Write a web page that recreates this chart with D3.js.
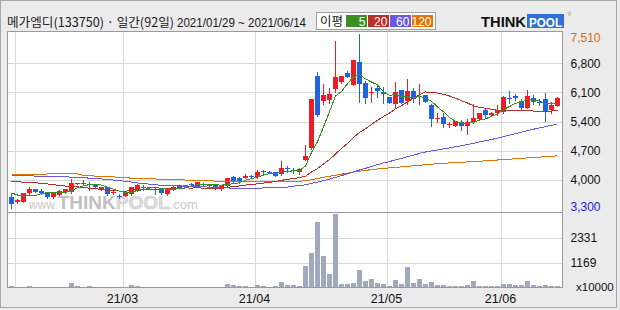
<!DOCTYPE html>
<html>
<head>
<meta charset="utf-8">
<script src="https://d3js.org/d3.v7.min.js"></script>
<style>
  body { margin: 0; background: #fff; }
  svg text { font-family: "Liberation Sans", Arial, sans-serif; }
  .kr { font-family: "Noto Sans CJK KR", "Noto Sans", sans-serif; }
</style>
</head>
<body>
<div id="chart"></div>
<script>
// trading days 2021/01/29 ~ 2021/06/14 (92)
const dates = [
  "01/29",
  "02/01","02/02","02/03","02/04","02/05","02/08","02/09","02/10","02/15","02/16",
  "02/17","02/18","02/19","02/22","02/23","02/24","02/25","02/26",
  "03/02","03/03","03/04","03/05","03/08","03/09","03/10","03/11","03/12","03/15",
  "03/16","03/17","03/18","03/19","03/22","03/23","03/24","03/25","03/26","03/29",
  "03/30","03/31",
  "04/01","04/02","04/05","04/06","04/07","04/08","04/09","04/12","04/13","04/14",
  "04/15","04/16","04/19","04/20","04/21","04/22","04/23","04/26","04/27","04/28",
  "04/29","04/30",
  "05/03","05/04","05/06","05/07","05/10","05/11","05/12","05/13","05/14","05/17",
  "05/18","05/20","05/21","05/24","05/25","05/26","05/27","05/28","05/31",
  "06/01","06/02","06/03","06/04","06/07","06/08","06/09","06/10","06/11","06/14"
];

const openP = [
  3600,3465,3480,3680,3785,3745,3705,3585,3650,3705,
  3720,3915,3915,3905,3905,3775,3825,3680,3620,3615,
  3670,3740,3830,3825,3780,3775,3655,3760,3815,3840,
  3905,3860,3905,3905,3880,3775,3860,4065,4040,4055,
  4100,4065,4205,4190,4185,4135,4290,4245,4185,4480,
  4770,6490,5895,5920,6175,6360,6575,6280,6830,6320,
  6110,6215,6120,5985,5825,6160,5895,6135,6000,6040,
  5810,5470,5500,5330,5290,5390,5305,5385,5465,5680,
  5560,5600,5625,5965,6025,5905,5735,5975,5880,5945,
  5680,5785
];
const highP = [
  3700,3535,3690,3840,3790,3775,3710,3700,3750,3780,
  4015,3940,4000,3960,3915,3830,3830,3730,3665,3700,
  3840,3900,3880,3840,3825,3780,3790,3850,3885,3890,
  3935,3950,3925,3910,3885,3885,4050,4090,4065,4145,
  4120,4240,4240,4215,4195,4450,4335,4280,4295,4840,
  5950,6600,6300,6200,7335,6505,6625,6890,7510,6375,
  6240,6305,6240,6000,6345,6170,6425,6210,6300,6050,
  5815,5600,5600,5400,5410,5440,5455,5815,5610,5730,
  5640,5800,6010,6135,6065,5945,6160,6040,5945,6080,
  5865,5990
];
const lowP = [
  3320,3440,3470,3640,3715,3665,3580,3580,3645,3700,
  3695,3900,3880,3760,3820,3770,3650,3670,3560,3610,
  3650,3735,3770,3800,3665,3675,3650,3755,3810,3835,
  3860,3855,3880,3850,3780,3770,3855,3955,3935,4040,
  4070,4040,4145,4160,4090,4120,4200,4175,4145,4470,
  4750,5540,5825,5850,6120,6335,6480,6270,5860,5855,
  5880,6000,5855,5840,5760,5840,5825,5880,5815,5870,
  5305,5390,5280,5280,5285,5200,5105,5360,5455,5510,
  5545,5560,5615,5840,5920,5680,5730,5825,5800,5415,
  5600,5775
];
const closeP = [
  3420,3520,3680,3785,3720,3695,3585,3695,3745,3775,
  3920,3925,3925,3895,3825,3825,3655,3720,3615,3695,
  3830,3875,3825,3815,3775,3680,3785,3840,3880,3880,
  3900,3945,3900,3855,3815,3880,4040,3960,3985,4105,
  4095,4200,4195,4185,4095,4295,4280,4240,4265,4580,
  5950,5560,6040,6065,6465,6495,6480,6880,6305,5970,
  6120,6135,6065,5850,6105,5850,6135,5935,6015,5880,
  5465,5480,5340,5340,5405,5300,5390,5480,5600,5560,
  5615,5680,6000,5960,5960,5735,6015,5880,5875,5655,
  5800,5975
];
// volume, x10000 shares
const volume = [
  60,55,55,60,50,45,50,45,50,55,
  200,60,55,60,45,40,55,40,45,50,
  110,100,50,45,50,45,50,50,45,55,
  50,55,45,40,45,55,150,105,60,100,
  55,140,60,55,60,250,130,110,65,1000,
  1620,3050,1460,620,3420,155,155,200,810,300,
  390,200,155,100,340,155,950,220,390,155,
  265,110,110,100,70,70,110,310,70,65,
  70,90,155,155,110,110,310,110,100,110,
  70,100
];

const ma5 = [
  3690,3640,3615,3620,3625,3680,3693,3696,3688,3699,
  3744,3812,3858,3888,3898,3879,3825,3784,3728,3702,
  3703,3747,3768,3808,3824,3794,3776,3779,3792,3813,
  3857,3889,3901,3896,3883,3879,3898,3910,3936,3994,
  4037,4069,4116,4156,4154,4194,4210,4219,4235,4332,
  4663,4919,5279,5639,6016,6125,6309,6477,6525,6426,
  6351,6282,6119,6028,6055,6001,6001,5975,6008,5963,
  5886,5755,5636,5501,5406,5373,5355,5383,5435,5466,
  5529,5587,5691,5763,5843,5867,5934,5910,5893,5832,
  5845,5837
];
const ma20 = [
  3965,3955,3950,3945,3935,3920,3905,3890,3870,3855,
  3845,3835,3820,3805,3790,3775,3760,3745,3735,3731,
  3752,3769,3777,3778,3781,3780,3790,3797,3804,3809,
  3808,3809,3808,3806,3806,3808,3828,3840,3858,3879,
  3892,3908,3927,3945,3961,3992,4017,4037,4056,4091,
  4193,4274,4381,4492,4624,4755,4877,5023,5139,5232,
  5333,5430,5524,5607,5707,5785,5878,5963,6050,6115,
  6091,6087,6052,6016,5963,5903,5848,5778,5743,5723,
  5697,5675,5671,5677,5670,5664,5658,5655,5648,5637,
  5654,5678
];
const ma60 = [
  4105,4105,4100,4100,4095,4095,4090,4085,4080,4075,
  4070,4065,4055,4045,4035,4025,4015,4000,3985,3970,
  3950,3930,3915,3900,3885,3875,3865,3860,3855,3850,
  3845,3840,3835,3830,3820,3815,3810,3805,3800,3800,
  3800,3805,3810,3815,3820,3825,3830,3850,3870,3885,
  3920,3950,3985,4020,4065,4105,4150,4195,4240,4281,
  4326,4369,4409,4443,4483,4519,4561,4599,4637,4672,
  4697,4723,4747,4771,4797,4822,4851,4880,4913,4944,
  4974,5004,5040,5076,5113,5147,5184,5218,5251,5281,
  5313,5346
];
const ma120 = [
  4125,4125,4125,4125,4130,4140,4145,4150,4150,4150,
  4150,4145,4110,4100,4095,4090,4085,4075,4065,4055,
  4045,4040,4035,4030,4025,4020,4015,4010,4005,4000,
  3995,3990,3985,3980,3975,3975,3970,3970,3965,3965,
  3960,3960,3960,3960,3960,3960,3960,3965,3970,3985,
  4005,4035,4065,4090,4115,4140,4165,4190,4210,4230,
  4250,4265,4280,4290,4305,4315,4330,4340,4355,4365,
  4380,4390,4400,4410,4415,4425,4435,4440,4450,4460,
  4470,4480,4490,4500,4510,4520,4530,4540,4550,4560,
  4570,4580
];

const maNames = ["5", "20", "60", "120"];
const maColors = ["#3b8e23", "#b9302a", "#6a5ae0", "#e07400"];
const priceTicks = [6800, 6100, 5400, 4700, 4000];
const priceMin = 3300;
const volTicks = [2331, 1169];
const volMax = 3500;
const monthLabels = ["21/03", "21/04", "21/05", "21/06"];

const W = 620, H = 310;
const panel = { left: 7.5, right: 562.5, top: 31.5, mid: 212.5, bottom: 287.5 };

const svg = d3.select("#chart").append("svg")
  .attr("width", W)
  .attr("height", H);

// background + frame
svg.append("rect").attr("width", W).attr("height", H).attr("fill", "#ebebeb");
svg.append("rect")
  .attr("x", 0.5).attr("y", 0.5).attr("width", 616).attr("height", 307)
  .attr("fill", "none").attr("stroke", "#a8a8a8");

// scales
const idx = d3.range(dates.length);
const x = d3.scaleBand().domain(idx).range([8.5, 560.5]);
const cx = (i) => x(i) + x.bandwidth() / 2;
const y = d3.scaleLinear().domain([priceMin, d3.max(highP)]).range([209.2, 33.7]);
const yv = d3.scaleLinear().domain([0, volMax]).range([287.7, 212.5]);

// panels
svg.append("rect")
  .attr("x", panel.left).attr("y", panel.top)
  .attr("width", panel.right - panel.left).attr("height", panel.bottom - panel.top)
  .attr("fill", "#fff");

const grid = svg.append("g").attr("stroke", "#d9d9d9").attr("shape-rendering", "crispEdges");

// month start gridlines
const monthStarts = idx.filter((i) => i > 0 && dates[i].slice(0, 2) !== dates[i - 1].slice(0, 2));
grid.selectAll(".vgrid")
  .data(monthStarts)
  .join("line")
  .attr("x1", (i) => Math.round(x(i)) + 0.5)
  .attr("x2", (i) => Math.round(x(i)) + 0.5)
  .attr("y1", panel.top)
  .attr("y2", panel.bottom);

grid.selectAll(".pgrid")
  .data(priceTicks)
  .join("line")
  .attr("x1", panel.left).attr("x2", panel.right)
  .attr("y1", (d) => Math.round(y(d)) + 0.5)
  .attr("y2", (d) => Math.round(y(d)) + 0.5);

grid.selectAll(".vgrid2")
  .data(volTicks)
  .join("line")
  .attr("x1", panel.left).attr("x2", panel.right)
  .attr("y1", (d) => Math.round(yv(d)) + 0.5)
  .attr("y2", (d) => Math.round(yv(d)) + 0.5);

// watermark
const wm = svg.append("text").attr("x", 29).attr("y", 209).attr("fill", "#c9c9c9");
wm.append("tspan").attr("font-size", 12).text("www.");
wm.append("tspan").attr("font-size", 19).attr("font-weight", "bold").attr("fill", "#c0c0c0").text("THINK");
wm.append("tspan").attr("font-size", 19).attr("font-weight", "bold").attr("fill", "#dedede")
  .attr("stroke", "#cacaca").attr("stroke-width", 0.6).text("POOL");
wm.append("tspan").attr("font-size", 13).text(".com");

// volume bars
svg.append("g")
  .attr("shape-rendering", "crispEdges")
  .selectAll("rect")
  .data(idx)
  .join("rect")
  .attr("x", (i) => cx(i) - 2.5)
  .attr("width", 5)
  .attr("y", (i) => Math.round(yv(volume[i])))
  .attr("height", (i) => Math.max(1, 288 - Math.round(yv(volume[i]))))
  .attr("fill", "#a1a9c1");

// candles
const up = "#ee1c24", down = "#2062e0";
const candles = svg.append("g").attr("shape-rendering", "crispEdges")
  .selectAll("g")
  .data(idx)
  .join("g")
  .attr("fill", (i) => (closeP[i] >= openP[i] ? up : down));

candles.append("rect")
  .attr("x", (i) => cx(i) - 0.5)
  .attr("width", 1)
  .attr("y", (i) => Math.round(y(highP[i])))
  .attr("height", (i) => Math.max(1, Math.round(y(lowP[i])) - Math.round(y(highP[i])) + 1));

candles.append("rect")
  .attr("x", (i) => cx(i) - 2.5)
  .attr("width", 5)
  .attr("y", (i) => Math.round(y(Math.max(openP[i], closeP[i]))))
  .attr("height", (i) =>
    Math.max(1, Math.round(y(Math.min(openP[i], closeP[i]))) - Math.round(y(Math.max(openP[i], closeP[i])))));

// moving averages
const maSeries = [ma5, ma20, ma60, ma120];
const line = d3.line().x((d, i) => cx(i)).y((d) => y(d));
svg.append("g")
  .selectAll("path")
  .data(maSeries.slice().reverse())
  .join("path")
  .attr("d", line)
  .attr("fill", "none")
  .attr("stroke", (d, k) => maColors[3 - k])
  .attr("stroke-width", 1)
  .attr("shape-rendering", "crispEdges");

// panel borders
svg.append("g")
  .attr("fill", "none").attr("stroke", "#9a9a9a").attr("shape-rendering", "crispEdges")
  .call((g) => {
    g.append("rect").attr("x", panel.left).attr("y", panel.top)
      .attr("width", panel.right - panel.left).attr("height", panel.mid - panel.top);
    g.append("rect").attr("x", panel.left).attr("y", panel.mid)
      .attr("width", panel.right - panel.left).attr("height", panel.bottom - panel.mid);
  });

// right price axis
const priceLabels = [d3.max(highP), ...priceTicks, priceMin];
const fmt = d3.format(",");
const pAxis = svg.append("g")
  .attr("transform", `translate(${panel.right + 4},0)`)
  .call(d3.axisRight(y).tickValues(priceLabels).tickSize(0).tickPadding(4).tickFormat(fmt));
pAxis.select(".domain").remove();
pAxis.selectAll("text")
  .attr("font-size", 12)
  .attr("font-family", "Liberation Sans, Arial, sans-serif")
  .attr("fill", (d) => (d === d3.max(highP) ? "#d46a0c" : d === priceMin ? "#1b1bd0" : "#111"))
  .attr("y", (d) => (d === d3.max(highP) ? 3.5 : d === priceMin ? -2.5 : 0));

const vAxis = svg.append("g")
  .attr("transform", `translate(${panel.right + 4},0)`)
  .call(d3.axisRight(yv).tickValues(volTicks).tickSize(0).tickPadding(4).tickFormat(d3.format("d")));
vAxis.select(".domain").remove();
vAxis.selectAll("text").attr("font-size", 12).attr("font-family", "Liberation Sans, Arial, sans-serif").attr("fill", "#111");

svg.append("text")
  .attr("x", 576).attr("y", 291)
  .attr("font-size", 11.5).attr("fill", "#111")
  .text("x10000");

// bottom date axis
const labelled = monthStarts.slice(-monthLabels.length);
const xAxis = svg.append("g")
  .attr("transform", `translate(${-x.bandwidth() / 2},${panel.bottom})`)
  .call(d3.axisBottom(x).tickValues(labelled).tickSize(0).tickPadding(7)
    .tickFormat((i) => monthLabels[labelled.indexOf(i)]));
xAxis.select(".domain").remove();
xAxis.selectAll("text").attr("font-size", 12.5).attr("font-family", "Liberation Sans, Arial, sans-serif").attr("fill", "#111");

// title (name part + period part)
svg.append("text")
  .attr("class", "kr")
  .attr("x", 7).attr("y", 27)
  .attr("font-size", 12.5).attr("fill", "#1a1a1a")
  .attr("textLength", 167).attr("lengthAdjust", "spacingAndGlyphs")
  .text("메가엠디(133750) · 일간(92일)");
svg.append("text")
  .attr("x", 177).attr("y", 27)
  .attr("font-size", 12).attr("fill", "#1a1a1a")
  .attr("textLength", 129).attr("lengthAdjust", "spacingAndGlyphs")
  .text("2021/01/29 ~ 2021/06/14");

// legend
const legend = svg.append("g");
legend.append("rect")
  .attr("x", 316.5).attr("y", 12.5).attr("width", 119).attr("height", 17)
  .attr("fill", "#fff").attr("stroke", "#a0a0a0");
legend.append("text")
  .attr("class", "kr")
  .attr("x", 320).attr("y", 25.5).attr("font-size", 12).attr("fill", "#111")
  .attr("textLength", 23).attr("lengthAdjust", "spacingAndGlyphs")
  .text("이평");
const lx = d3.scaleBand().domain(maNames).range([346, 433]).paddingInner(0.05);
const items = legend.selectAll(".item").data(maNames).join("g");
items.append("rect")
  .attr("x", (d) => lx(d)).attr("y", 15).attr("width", lx.bandwidth()).attr("height", 12)
  .attr("fill", (d, k) => maColors[k]);
items.append("text")
  .attr("x", (d) => lx(d) + lx.bandwidth() - 1.5).attr("y", 25.5)
  .attr("text-anchor", "end").attr("font-size", 12).attr("fill", "#fff")
  .text((d) => d);

// logo
const logo = svg.append("g");
logo.append("text")
  .attr("x", 481).attr("y", 27)
  .attr("font-size", 15).attr("font-weight", "bold").attr("fill", "#111")
  .attr("textLength", 45).attr("lengthAdjust", "spacingAndGlyphs")
  .text("THINK");
logo.append("rect")
  .attr("x", 527).attr("y", 14).attr("width", 37).attr("height", 14)
  .attr("fill", "#2f6fd6");
logo.append("text")
  .attr("x", 529).attr("y", 27)
  .attr("font-size", 13).attr("font-weight", "bold").attr("fill", "#fff")
  .attr("textLength", 33).attr("lengthAdjust", "spacingAndGlyphs")
  .text("POOL");
logo.append("text")
  .attr("x", 567.5).attr("y", 16).attr("font-size", 5).attr("fill", "#888").text("®");
</script>
</body>
</html>
